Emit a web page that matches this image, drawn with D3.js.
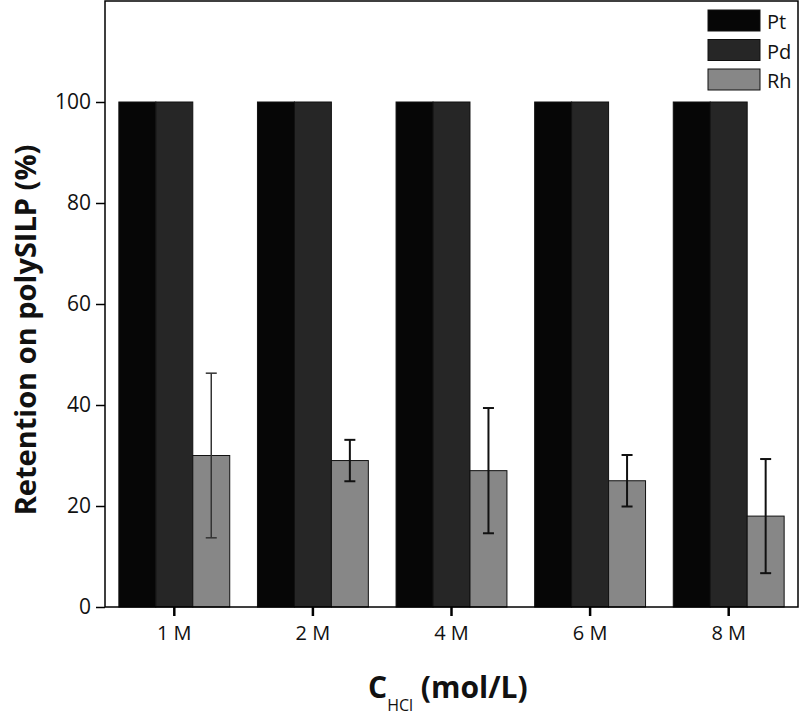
<!DOCTYPE html>
<html><head><meta charset="utf-8">
<script src="https://cdn.jsdelivr.net/npm/d3@7"></script>
<style>body{margin:0;background:#fff}svg{display:block}</style>
</head><body><svg id="c" width="799" height="715"></svg>
<script>
const categories = ["1 M","2 M","4 M","6 M","8 M"];
const series = ["Pt","Pd","Rh"];
const ptValues = [100,100,100,100,100];
const pdValues = [100,100,100,100,100];
const rhValues = [30,29,27,25,18];
const rhErrors = [16.3,4.1,12.4,5.1,11.3];
const yTicks = [0,20,40,60,80,100];
const colors = {Pt:"#060606", Pd:"#262626", Rh:"#878787"};

const svg = d3.select("#c");
const m = {l:105, r:798, t:1, b:607};
const font = "'Open Sans', sans-serif";

const x = d3.scaleBand().domain(categories).range([m.l, m.r]).paddingInner(0.2).paddingOuter(0.1);
const xs = d3.scaleBand().domain(series).range([0, x.bandwidth()]);
const y = d3.scaleLinear().domain([0,120]).range([m.b, m.t]);

const data = [];
categories.forEach((c,i)=>{
  data.push({c, s:"Pt", v:ptValues[i]});
  data.push({c, s:"Pd", v:pdValues[i]});
  data.push({c, s:"Rh", v:rhValues[i], e:rhErrors[i]});
});

svg.append("g").selectAll("rect").data(data).join("rect")
  .attr("x", d=>x(d.c)+xs(d.s))
  .attr("y", d=>y(d.v))
  .attr("width", xs.bandwidth())
  .attr("height", d=>y(0)-y(d.v))
  .attr("fill", d=>colors[d.s])
  .attr("stroke", "#111").attr("stroke-width", 1);

// error bars
const eb = svg.append("g").selectAll("g").data(data.filter(d=>d.e!=null)).join("g")
  .attr("stroke", (d,i)=> i===0 ? "#333" : "#111")
  .attr("stroke-width", (d,i)=> i===0 ? 1.5 : 2);
const cx = d=>x(d.c)+xs(d.s)+xs.bandwidth()/2;
eb.append("line").attr("x1",cx).attr("x2",cx).attr("y1",d=>y(d.v+d.e)).attr("y2",d=>y(d.v-d.e));
eb.append("line").attr("x1",d=>cx(d)-5.5).attr("x2",d=>cx(d)+5.5).attr("y1",d=>y(d.v+d.e)).attr("y2",d=>y(d.v+d.e));
eb.append("line").attr("x1",d=>cx(d)-5.5).attr("x2",d=>cx(d)+5.5).attr("y1",d=>y(d.v-d.e)).attr("y2",d=>y(d.v-d.e));

// frame
svg.append("rect").attr("x",m.l).attr("y",m.t).attr("width",m.r-m.l).attr("height",m.b-m.t)
  .attr("fill","none").attr("stroke","#000").attr("stroke-width",1.5);

// axes
const ya = svg.append("g").attr("transform",`translate(${m.l},0)`)
  .call(d3.axisLeft(y).tickValues(yTicks).tickSize(9).tickPadding(5));
ya.select(".domain").remove();
ya.selectAll("line").attr("stroke","#000").attr("stroke-width",1.5);
ya.selectAll("text").attr("font-family",font).attr("font-size",21).attr("fill","#111");

const xa = svg.append("g").attr("transform",`translate(0,${m.b})`)
  .call(d3.axisBottom(x).tickSize(9).tickPadding(10));
xa.select(".domain").remove();
xa.selectAll("line").attr("stroke","#000").attr("stroke-width",2.5);
xa.selectAll("text").attr("font-family",font).attr("font-size",20).attr("fill","#111");

// legend
const lg = svg.append("g").selectAll("g").data(series).join("g")
  .attr("transform",(d,i)=>`translate(708,${10+i*29.5})`);
lg.append("rect").attr("width",52).attr("height",21).attr("fill",d=>colors[d]).attr("stroke","#111").attr("stroke-width",1);
lg.append("text").attr("x",59).attr("y",19).text(d=>d)
  .attr("font-family",font).attr("font-size",20).attr("fill","#111");

// axis titles
svg.append("text").attr("transform","translate(36,330) rotate(-90)").attr("text-anchor","middle")
  .attr("font-family",font).attr("font-weight","bold").attr("font-size",29).attr("fill","#111")
  .text("Retention on polySILP (%)");
const xt = svg.append("text").attr("x",368).attr("y",698)
  .attr("font-family",font).attr("font-weight","bold").attr("font-size",30).attr("fill","#111");
xt.append("tspan").text("C");
xt.append("tspan").attr("font-size",16).attr("font-weight","normal").attr("dy",13).text("HCl");
xt.append("tspan").attr("dy",-13).text(" (mol/L)");
</script></body></html>
